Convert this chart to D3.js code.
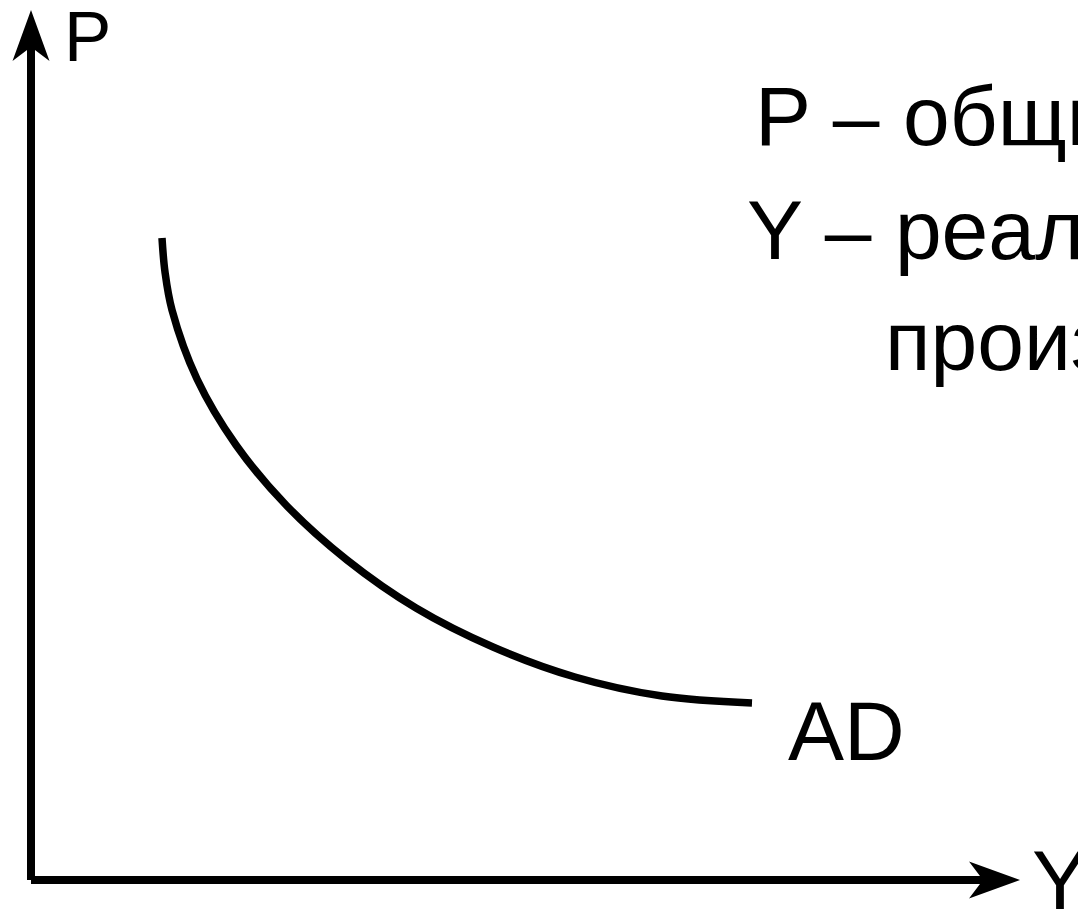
<!DOCTYPE html>
<html>
<head>
<meta charset="utf-8">
<script src="https://cdn.jsdelivr.net/npm/d3@7"></script>
<style>
  html, body { margin: 0; padding: 0; background: #fff; overflow: hidden; }
  svg { display: block; }
</style>
</head>
<body>
<script>
// AD curve, in chart units (0,0 = origin of the axes)
const adY = [131, 134, 141, 166, 205, 255, 316, 385, 462, 544, 631, 721];
const adP = [642, 608, 570, 501, 435, 375, 320, 272, 233, 203, 184, 177];
const adData = adY.map((y, i) => ({y: y, p: adP[i]}));

// text labels
const axisLabels = ['P', 'Y'];
const curveLabel = 'AD';
const legendLines = ['P – общий уровень цен', 'Y – реальный объем', 'производства'];

const svgWid = 1078;
const svgHt = 911;
const svg = d3.select('body').append('svg').attr('width', svgWid).attr('height', svgHt);

// scales: chart units -> screen
const xScale = d3.scaleLinear().domain([0, 989]).range([31, 1020]);
const yScale = d3.scaleLinear().domain([0, 870]).range([880, 10]);

const font = 'Liberation Sans, Arial, sans-serif';

// axes
const x0 = xScale(0), y0 = yScale(0);
const xEnd = xScale.range()[1], yEnd = yScale.range()[1];
const headLen = 51, headHalf = 18.5, notch = 14;

svg.append('line').attr('x1', x0).attr('y1', y0).attr('x2', x0).attr('y2', yEnd + notch + 2)
    .attr('stroke', '#000').attr('stroke-width', 8);
svg.append('line').attr('x1', x0).attr('y1', y0).attr('x2', xEnd - notch - 2).attr('y2', y0)
    .attr('stroke', '#000').attr('stroke-width', 8);

// arrow heads
svg.append('path')
    .attr('d', `M${x0},${yEnd} L${x0 + headHalf},${yEnd + headLen} L${x0},${yEnd + headLen - notch} L${x0 - headHalf},${yEnd + headLen} Z`)
    .attr('fill', '#000');
svg.append('path')
    .attr('d', `M${xEnd},${y0} L${xEnd - headLen},${y0 - headHalf} L${xEnd - headLen + notch},${y0} L${xEnd - headLen},${y0 + headHalf} Z`)
    .attr('fill', '#000');

// axis names
svg.append('text').text(axisLabels[0]).attr('x', 64).attr('y', 61)
    .attr('font-family', font).attr('font-size', 71).attr('fill', '#000');
svg.append('text').text(axisLabels[1]).attr('x', 1032).attr('y', 909)
    .attr('font-family', font).attr('font-size', 84).attr('fill', '#000');

// AD curve
const lineGen = d3.line()
    .x(d => xScale(d.y))
    .y(d => yScale(d.p))
    .curve(d3.curveCatmullRom);

svg.append('path').attr('d', lineGen(adData))
    .attr('fill', 'none').attr('stroke', '#000').attr('stroke-width', 7.5).attr('stroke-linecap', 'butt');

svg.append('text').text(curveLabel).attr('x', 788).attr('y', 760)
    .attr('font-family', font).attr('font-size', 84).attr('fill', '#000');

// legend text (runs off the right edge, as in the original)
const legendX = [755, 747, 885];
const legendBase = [145, 259, 370];
svg.selectAll('text.legend').data(legendLines).enter()
    .append('text').attr('class', 'legend')
    .text(d => d)
    .attr('x', (d, i) => legendX[i])
    .attr('y', (d, i) => legendBase[i])
    .attr('font-family', font).attr('font-size', 84).attr('fill', '#000');
</script>
</body>
</html>
